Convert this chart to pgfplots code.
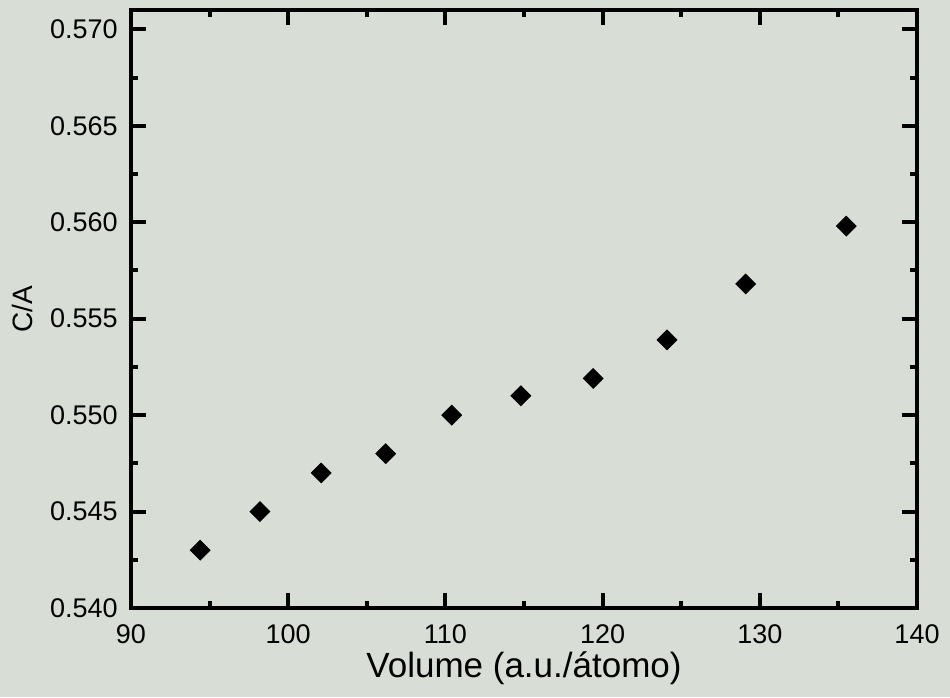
\documentclass[border=0pt]{standalone}
\usepackage{pgfplots}
\pgfplotsset{compat=1.18}
\usepackage{fontspec}
\setmainfont{Liberation Sans}
\usetikzlibrary{backgrounds}
\definecolor{paper}{RGB}{216,221,214}

\begin{document}
\begin{tikzpicture}
\begin{axis}[
    name=ax,
    scale only axis,
    width=393pt, height=299pt,
    xmin=90, xmax=140,
    ymin=0.540, ymax=0.571,
    xtick={90,100,110,120,130,140},
    ytick={0.540,0.545,0.550,0.555,0.560,0.565,0.570},
    minor x tick num=1, minor y tick num=1,
    scaled y ticks=false,
    tick align=inside,
    axis line style={line width=2.4pt},
    every tick/.style={black, line width=2pt},
    major tick length=7.5pt, minor tick length=3.5pt,
    /pgf/number format/assume math mode=true,
    tick label style={font=\fontsize{13.5}{16}\selectfont, inner sep=0pt},
    yticklabel style={xshift=-6.5pt, /pgf/number format/.cd, fixed, fixed zerofill, precision=3},
    xticklabel style={yshift=-8pt},
    xlabel={Volume (a.u./átomo)},
    ylabel={C/A},
    every axis x label/.style={at={(rel axis cs:0.5,0)}, anchor=center, yshift=-30pt, font=\fontsize{17.5}{20}\selectfont},
    every axis y label/.style={at={(rel axis cs:0,0.5)}, xshift=-54.5pt, rotate=90, anchor=center, font=\fontsize{14}{16}\selectfont},
]
\addplot[only marks, mark=square*, mark size=3.5pt,
    mark options={rotate=45, fill=black, draw=black}] coordinates {
    (94.4,0.5430)(98.2,0.5450)(102.1,0.5470)(106.2,0.5480)(110.4,0.5500)
    (114.8,0.5510)(119.4,0.5519)(124.1,0.5539)(129.1,0.5568)(135.5,0.5598)
};
\end{axis}
\begin{pgfonlayer}{background}
\fill[paper] ([xshift=-65.5pt,yshift=-44.5pt]ax.south west) rectangle ([xshift=16.5pt,yshift=5pt]ax.north east);
\end{pgfonlayer}
\end{tikzpicture}
\end{document}
